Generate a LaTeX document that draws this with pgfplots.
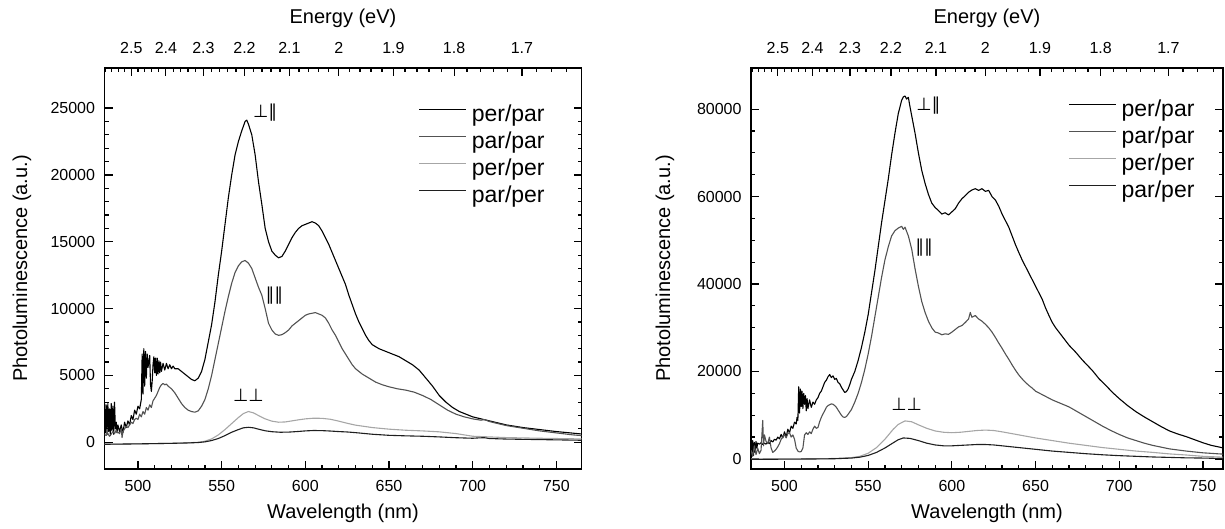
\documentclass[border=0pt]{standalone}
\usepackage{fontspec}
\setmainfont{Liberation Sans}
\newfontfamily\symfont{DejaVu Sans}
\usepackage{pgfplots}
\pgfplotsset{compat=1.18}
\definecolor{cA}{gray}{0}
\definecolor{cB}{gray}{0.32}
\definecolor{cC}{gray}{0.65}
\definecolor{cD}{gray}{0.12}
\tikzset{ann/.style={font=\symfont\fontsize{8.8}{10}\selectfont, inner sep=0pt}}
\pgfplotsset{
  common/.style={
    scale only axis, height=200.5pt,
    axis line style={line width=0.8pt},
    tick style={line width=0.6pt, black},
    major tick length=4pt, minor tick length=2pt,
    tick label style={font=\fontsize{8}{9.5}\selectfont},
    label style={font=\fontsize{11.5}{13.5}\selectfont},
    /pgf/number format/assume math mode=true,
    /pgf/number format/1000 sep={},
  },
  pl/.style={
    common,
    scaled y ticks=false,
    xtick pos=left,
    xtick={500,550,...,750},
    minor x tick num=4,
    xticklabel style={yshift=-2.2pt},
    yticklabel style={xshift=-1.2pt},
    xlabel={Wavelength (nm)},
    ylabel={Photoluminescence (a.u.)},
    every axis x label/.style={at={(axis description cs:0.5,0)}, anchor=center, yshift=-22pt},
    legend image code/.code={\draw[##1, line width=0.5pt] (0pt,3.2pt) -- (23.5pt,3.2pt);},
    legend cell align=left,
    legend style={draw=none, fill=none, anchor=north west, font=\fontsize{11.5}{13.5}\selectfont, row sep=2pt, inner sep=0pt,
      nodes={inner sep=0.5pt, text height=8pt, text depth=2.5pt},
      /tikz/every odd column/.append style={column sep=2pt}},
    every axis plot/.append style={line width=0.55pt, line join=round},
  },
  en/.style={
    common,
    ymin=0, ymax=1, hide y axis,
    xtick pos=right, xticklabel pos=right,
    xtick={496,516.67,539.13,563.64,590.48,620,652.63,688.89,729.41},
    xticklabels={2.5,2.4,2.3,2.2,2.1,2,1.9,1.8,1.7},
    minor xtick={480.62,484.38,488.19,492.06,500,504.07,508.2,512.4,521.01,525.42,529.91,534.48,543.86,548.67,553.57,558.56,568.81,574.07,579.44,584.91,596.15,601.94,607.84,613.86,626.26,632.65,639.18,645.83,659.57,666.67,673.91,681.32,696.63,704.55,712.64,720.93,738.1,746.99,756.1},
    xticklabel style={yshift=3.5pt},
    xlabel={Energy (eV)},
    every axis x label/.style={at={(axis description cs:0.5,1)}, anchor=center, yshift=25pt},
  },
}
\begin{document}
\begin{tikzpicture}
\useasboundingbox (0,0) rectangle (612.5pt,264.5pt);
% ---------------- left panel ----------------
\begin{axis}[en, at={(52.25pt,30pt)}, anchor=south west, width=238.5pt, xmin=480, xmax=765]
\end{axis}
\begin{axis}[pl, at={(52.25pt,30pt)}, anchor=south west, width=238.5pt,
  xmin=480, xmax=765, ymin=-2000, ymax=28000,
  ytick={0,5000,...,25000}, minor y tick num=4,
  every axis y label/.style={at={(axis description cs:0,0.5)}, anchor=center, rotate=90, yshift=41.25pt},
  legend style={at={(rel axis cs:0.658,0.909)}}]
\addplot[cA] coordinates {(480,2900)(480.5,700)(481,2800)(481.5,600)(482,2900)(482.5,800)(483,2500)(483.5,500)(484,2900)(484.5,900)(485,2700)(485.5,600)(486,3000)(486.5,1000)(487,1500)(487.5,700)(488,1300)(489,800)(490,1300)(491,700)(492,1500)(493,1100)(494,1600)(495,1300)(496,2000)(497,1700)(498,2400)(499,2100)(500,2700)(501,2500)(502,3200)(502.5,6600)(503,3600)(503.5,7000)(504,4200)(504.5,6800)(505,4800)(505.5,6600)(506,5600)(507,6500)(507.5,4300)(508,3800)(508.5,4600)(509,5800)(509.5,6400)(510,5200)(510.5,6300)(511,5000)(511.5,6300)(512,5100)(512.5,6100)(513,5200)(513.5,6000)(514,5300)(515,5900)(516,5400)(517,5900)(518,5500)(519,5800)(520,5500)(521,5700)(522,5500)(524,5500)(526,5300)(528,5100)(530,4900)(532,4700)(534,4600)(536,4800)(538,5300)(540,6200)(542,7500)(544,8800)(546,10500)(548,12500)(550,14300)(552,16300)(554,18300)(556,20000)(558,21500)(560,22500)(562,23300)(564,24000)(565,24100)(566,23800)(568,23000)(570,21500)(572,19500)(574,17800)(576,16000)(578,15000)(580,14300)(582,14000)(584,13800)(586,13900)(588,14300)(590,14800)(592,15300)(594,15700)(596,16000)(598,16200)(600,16300)(602,16400)(604,16500)(606,16400)(608,16200)(610,15800)(612,15300)(614,14800)(616,14200)(618,13600)(620,13000)(622,12400)(624,11800)(626,11000)(628,10300)(630,9600)(632,9000)(634,8500)(636,8000)(638,7600)(640,7300)(644,7000)(648,6800)(652,6600)(656,6400)(660,6100)(664,5800)(668,5400)(672,4800)(676,4200)(680,3500)(684,3000)(688,2600)(692,2300)(696,2100)(700,1900)(705,1750)(710,1600)(715,1450)(720,1300)(730,1100)(740,950)(750,800)(760,680)(765,620)};
\addlegendentry{per/par}
\addplot[cB] coordinates {(480,600)(481,500)(482,650)(483,450)(484,600)(485,800)(486,650)(487,900)(488,750)(489,650)(490,1000)(490.5,350)(491,800)(492,1000)(493,1200)(494,1100)(495,1300)(496,1500)(497,1400)(498,1700)(499,1800)(500,1700)(501,2100)(502,1900)(503,2300)(504,2100)(505,2600)(506,2400)(507,2800)(508,2600)(509,3100)(510,3300)(511,3500)(512,3800)(513,4100)(514,4300)(515,4400)(516,4300)(517,4350)(518,4200)(520,4000)(522,3700)(524,3300)(526,2900)(528,2600)(530,2400)(532,2300)(534,2250)(536,2350)(538,2700)(540,3200)(542,4000)(544,5000)(546,6200)(548,7400)(550,8600)(552,9800)(554,10900)(556,11900)(558,12700)(560,13200)(562,13500)(564,13600)(566,13400)(568,13000)(570,12300)(572,11600)(574,11000)(576,10000)(578,8900)(580,8400)(582,8100)(584,8000)(586,8050)(588,8200)(590,8400)(592,8700)(594,8900)(596,9100)(598,9300)(600,9500)(602,9600)(604,9650)(606,9700)(608,9600)(610,9500)(612,9300)(614,8900)(616,8400)(618,8000)(620,7500)(622,7000)(624,6600)(626,6200)(628,5800)(630,5500)(634,5100)(638,4800)(642,4500)(646,4300)(650,4150)(655,4000)(660,3900)(665,3750)(670,3500)(675,3200)(680,2800)(685,2400)(690,2100)(695,1900)(700,1750)(705,1650)(707,1700)(710,1550)(715,1400)(720,1250)(730,1050)(740,850)(750,700)(760,550)(765,500)};
\addlegendentry{par/par}
\addplot[cC] coordinates {(480,-150)(500,-120)(520,-80)(530,-40)(536,0)(540,80)(544,250)(548,550)(552,950)(556,1400)(560,1850)(563,2150)(566,2300)(569,2200)(572,2000)(576,1750)(580,1580)(584,1500)(588,1520)(592,1600)(596,1680)(600,1750)(605,1800)(610,1790)(615,1720)(620,1580)(625,1420)(630,1280)(640,1100)(650,980)(660,900)(670,850)(680,780)(690,650)(700,450)(710,400)(720,350)(740,300)(765,250)};
\addlegendentry{per/per}
\addplot[cD] coordinates {(480,-150)(500,-120)(520,-80)(530,-50)(536,-20)(540,30)(544,130)(548,280)(552,500)(556,750)(560,950)(563,1080)(566,1120)(569,1080)(572,980)(576,860)(580,790)(585,750)(590,760)(595,800)(600,850)(605,880)(610,870)(615,840)(620,800)(625,770)(630,720)(640,600)(650,520)(660,480)(670,450)(680,400)(690,340)(700,300)(704,330)(707,340)(710,280)(720,240)(740,200)(765,150)};
\addlegendentry{par/per}
\node[ann] at (axis cs:576,24700) {⊥∥};
\node[ann] at (axis cs:581.5,11000) {∥∥};
\node[ann] at (axis cs:566,3500) {⊥⊥};
\end{axis}
% ---------------- right panel ----------------
\begin{axis}[en, at={(375.5pt,30pt)}, anchor=south west, width=236pt, xmin=480, xmax=762]
\end{axis}
\begin{axis}[pl, at={(375.5pt,30pt)}, anchor=south west, width=236pt,
  xmin=480, xmax=762, ymin=-2300, ymax=89400,
  ytick={0,20000,...,80000}, minor y tick num=3,
  every axis y label/.style={at={(axis description cs:0,0.5)}, anchor=center, rotate=90, yshift=43pt},
  legend style={at={(rel axis cs:0.672,0.923)}}]
\addplot[cA] coordinates {(480,3500)(480.5,1200)(481,4200)(481.5,800)(482,3800)(482.5,1500)(483,4000)(483.5,2500)(484,3600)(485,3400)(486,3700)(487,3300)(488,3600)(489,3400)(490,3800)(491,3500)(492,4200)(493,3900)(494,4500)(495,4300)(496,5000)(497,4600)(498,5600)(499,4800)(500,6200)(501,5000)(502,6800)(503,6000)(504,7500)(505,7000)(506,8400)(507,8000)(507.5,9500)(508,8800)(508.5,16500)(509,10500)(509.5,16000)(510,12000)(510.5,15500)(511,11500)(511.5,15000)(512,12500)(512.5,14500)(513,11000)(513.5,13800)(514,11500)(515,13500)(516,11800)(517,13000)(518,12500)(519,13500)(520,14000)(521,15000)(522,15500)(523,16500)(524,17500)(525,18000)(526,18800)(527,19300)(528,18600)(529,19000)(530,18200)(531,18400)(532,17500)(533,17200)(534,16400)(535,15800)(536,15200)(537,15400)(538,16000)(539,17000)(540,18200)(542,20000)(544,22500)(546,25500)(548,29000)(550,33000)(552,38000)(554,43000)(556,48500)(558,54000)(560,59000)(562,64000)(564,69500)(566,74500)(568,79000)(570,82000)(571,82800)(572,83000)(573,82300)(574,82700)(575,80500)(576,78500)(578,74500)(580,70000)(582,66000)(584,63000)(586,60500)(588,58500)(590,57500)(592,56800)(594,56000)(596,56300)(598,55800)(600,56500)(602,57200)(604,58500)(606,59500)(608,60200)(610,61000)(612,61500)(614,61800)(616,61400)(618,61800)(620,61200)(622,61400)(624,60000)(626,59200)(628,57800)(630,56000)(632,54500)(634,53000)(636,51000)(638,49000)(640,47200)(642,45500)(644,44000)(646,42500)(648,41000)(650,39500)(652,38000)(654,36500)(656,34500)(658,32800)(660,31200)(662,30000)(664,29000)(666,28000)(668,27000)(670,26000)(672,25200)(674,24400)(676,23500)(678,22600)(680,21800)(684,20200)(688,18300)(692,16800)(696,15200)(700,13800)(705,12200)(710,10800)(715,9600)(720,8500)(725,7400)(730,6400)(735,5700)(740,5100)(745,4400)(750,3700)(755,3100)(760,2700)(762,2500)};
\addlegendentry{per/par}
\addplot[cB] coordinates {(480,2000)(481,600)(482,3000)(483,1000)(484,2500)(485,1200)(486,2000)(487,8800)(487.5,3000)(488,5500)(489,4000)(490,3500)(491,5000)(492,2500)(493,1500)(494,1800)(495,2200)(496,2800)(497,3500)(498,4500)(499,5000)(500,5600)(501,4800)(502,5800)(503,6000)(504,5000)(505,5500)(506,4500)(507,2500)(508,1800)(509,1600)(510,1700)(511,2500)(512,5500)(513,6000)(514,5600)(515,6200)(516,5800)(517,6800)(518,7500)(519,7000)(520,7200)(521,8500)(522,9500)(523,10300)(524,11000)(525,11800)(526,12200)(527,12400)(528,12600)(529,12500)(530,12200)(531,11800)(532,11200)(533,10600)(534,10000)(535,9600)(536,9500)(537,9700)(538,10200)(540,11300)(542,13000)(544,15000)(546,17500)(548,20500)(550,24000)(552,28000)(554,32500)(556,37000)(558,41500)(560,45500)(562,48500)(564,51000)(566,52200)(568,52800)(570,53200)(571,52500)(572,53000)(574,51000)(576,48000)(578,43500)(580,39500)(582,36000)(584,33500)(586,31500)(588,30000)(590,29000)(592,28800)(594,28400)(596,28600)(598,28500)(600,29000)(602,29600)(604,30200)(606,30500)(608,31200)(610,32000)(611,33500)(612,32400)(614,32800)(616,32000)(618,31500)(620,30800)(622,30000)(624,29000)(626,27800)(628,26500)(630,25300)(632,24000)(634,22800)(636,21500)(638,20300)(640,19200)(642,18300)(644,17500)(646,16800)(648,16200)(650,15500)(655,14500)(660,13500)(665,12700)(670,11900)(675,10800)(680,9700)(685,8600)(690,7500)(695,6500)(700,5600)(705,4800)(710,4200)(715,3600)(720,3100)(730,2300)(740,1800)(750,1400)(762,1100)};
\addlegendentry{par/par}
\addplot[cC] coordinates {(480,0)(500,0)(520,50)(530,100)(540,300)(545,600)(550,1300)(555,2600)(560,4500)(565,6800)(568,7900)(572,8700)(576,8500)(580,7800)(585,7000)(590,6400)(595,6100)(600,6000)(605,6100)(610,6300)(615,6500)(620,6600)(625,6500)(630,6200)(640,5500)(650,4800)(660,4200)(670,3600)(680,3100)(690,2600)(700,2200)(710,1800)(720,1500)(730,1150)(740,900)(750,600)(762,400)};
\addlegendentry{per/per}
\addplot[cD] coordinates {(480,-100)(500,-50)(520,0)(530,50)(540,200)(545,400)(550,800)(555,1500)(560,2500)(565,3700)(568,4400)(571,4800)(575,4700)(580,4200)(585,3600)(590,3200)(595,3000)(600,3000)(605,3100)(610,3200)(615,3300)(620,3300)(625,3200)(630,3000)(640,2600)(650,2200)(660,1800)(670,1500)(680,1200)(690,950)(700,750)(710,600)(720,450)(730,350)(740,250)(750,200)(762,100)};
\addlegendentry{par/per}
\node[ann] at (axis cs:586,80900) {⊥∥};
\node[ann] at (axis cs:583.5,48300) {∥∥};
\node[ann] at (axis cs:573,12400) {⊥⊥};
\end{axis}
\end{tikzpicture}
\end{document}
